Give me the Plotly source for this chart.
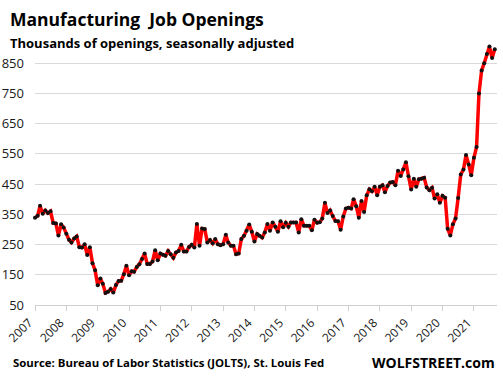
import plotly.graph_objects as go

years = list(range(2007, 2022))

v2007 = [339, 345, 378, 352, 363, 354, 360, 321, 320, 280, 317, 306]
v2008 = [286, 266, 257, 270, 277, 241, 240, 251, 215, 241, 188, 165]
v2009 = [115, 138, 120, 90, 94, 103, 91, 116, 129, 130, 152, 180]
v2010 = [148, 162, 160, 176, 185, 202, 220, 186, 186, 194, 231, 198]
v2011 = [220, 216, 213, 229, 218, 206, 224, 229, 249, 227, 227, 242]
v2012 = [249, 240, 318, 246, 303, 301, 257, 265, 254, 268, 251, 248]
v2013 = [251, 282, 257, 246, 246, 218, 220, 268, 279, 296, 316, 292]
v2014 = [260, 285, 279, 273, 290, 318, 296, 323, 309, 292, 327, 307]
v2015 = [322, 309, 323, 323, 323, 290, 334, 312, 312, 312, 297, 332]
v2016 = [322, 324, 336, 388, 354, 363, 344, 328, 327, 299, 343, 369]
v2017 = [372, 369, 400, 377, 339, 394, 358, 413, 433, 426, 441, 413]
v2018 = [441, 446, 423, 444, 455, 457, 446, 494, 477, 498, 522, 476]
v2019 = [432, 468, 441, 466, 468, 471, 439, 430, 438, 402, 416, 388]
v2020 = [411, 405, 302, 280, 317, 336, 404, 482, 498, 546, 515, 479]
v2021 = [537, 573, 750, 826, 850, 880, 905, 867, 896]

series = [v2007, v2008, v2009, v2010, v2011, v2012, v2013, v2014,
          v2015, v2016, v2017, v2018, v2019, v2020, v2021]

dates, values = [], []
for yr, vals in zip(years, series):
    for m, v in enumerate(vals, start=1):
        dates.append(f"{yr}-{m:02d}-01")
        values.append(v)

y_ticks = [50, 150, 250, 350, 450, 550, 650, 750, 850]
x_tick_labels = [str(y) for y in years]
x_tick_vals = [f"{y}-01-01" for y in years]

title = "Manufacturing\u00a0 Job Openings"
subtitle = "Thousands of openings, seasonally adjusted"
source = "Source: Bureau of Labor Statistics (JOLTS), St. Louis Fed"
brand = "WOLFSTREET.com"

FONT = "Open Sans"

fig = go.Figure()
fig.add_trace(go.Scatter(
    x=dates, y=values, mode="lines+markers",
    line=dict(color="#ff0000", width=3.5),
    marker=dict(color="#111111", size=4),
    cliponaxis=False, hoverinfo="skip",
))

W, H = 503, 383
L, R, T, B = 35, 6, 42, 78
pw, ph = W - L - R, H - T - B

def px(xp):
    return (xp - L) / pw

def py(yp):
    return (H - B - yp) / ph

fig.update_layout(
    width=W, height=H,
    margin=dict(l=L, r=R, t=T, b=B, pad=0),
    paper_bgcolor="white", plot_bgcolor="white",
    showlegend=False,
    font=dict(family=FONT, color="#1a1a1a", size=12),
    xaxis=dict(
        type="date",
        range=["2007-01-01", "2021-09-27"],
        tickvals=x_tick_vals, ticktext=x_tick_labels,
        tickangle=-45, showgrid=False, zeroline=False,
        showline=True, linecolor="#d0d0d0", linewidth=1,
        ticks="outside", ticklen=5, tickcolor="#d0d0d0",
        ticklabelshift=-6,
        tickfont=dict(size=12, family=FONT, color="#1a1a1a"),
        automargin=False,
    ),
    yaxis=dict(
        range=[50, 920],
        tickvals=y_ticks, ticktext=[str(t) for t in y_ticks],
        showgrid=True, gridcolor="#d9d9d9", gridwidth=1,
        zeroline=False, showline=False, ticks="",
        ticklabelstandoff=10, automargin=False,
        tickfont=dict(size=13, family=FONT, color="#1a1a1a"),
    ),
)

fig.add_annotation(text=f"<b>{title}</b>", xref="paper", yref="paper",
                   x=px(8), y=py(19), xanchor="left", yanchor="middle",
                   showarrow=False, font=dict(size=17.5, family=FONT, color="#000000"))
fig.add_annotation(text=f"<b>{subtitle}</b>", xref="paper", yref="paper",
                   x=px(8), y=py(43), xanchor="left", yanchor="middle",
                   showarrow=False, font=dict(size=13, family=FONT, color="#000000"))
fig.add_annotation(text=f"<b>{source}</b>", xref="paper", yref="paper",
                   x=px(11), y=py(362), xanchor="left", yanchor="middle",
                   showarrow=False, font=dict(size=11.4, family=FONT, color="#000000"))
fig.add_annotation(text=f"<b>{brand}</b>", xref="paper", yref="paper",
                   x=px(497), y=py(362), xanchor="right", yanchor="middle",
                   showarrow=False, font=dict(size=14, family=FONT, color="#000000"))

fig.write_html("out.html", config={"displayModeBar": False},
               post_script="document.body.style.margin='0';")
